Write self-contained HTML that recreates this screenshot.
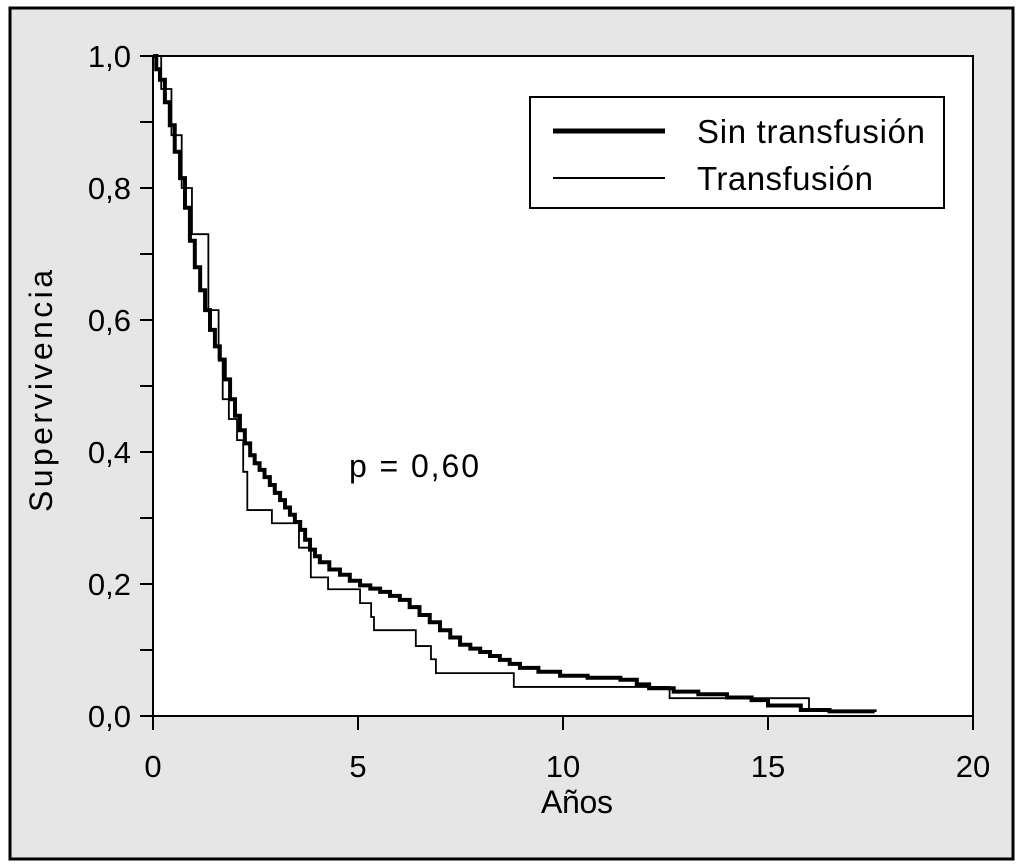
<!DOCTYPE html>
<html><head><meta charset="utf-8"><style>
html,body{margin:0;padding:0;background:#fff;}
svg{display:block;font-family:"Liberation Sans",sans-serif;}
</style></head><body>
<svg id="chart" width="1024" height="865" viewBox="0 0 1024 865">
<rect x="10" y="8" width="1003" height="851" fill="#e6e6e6" stroke="#000" stroke-width="3"/>
<rect x="153" y="56" width="820" height="660" fill="#fff" stroke="#000" stroke-width="2"/>
<g id="axes"></g>
<g id="series"></g>
<text x="349" y="477" font-size="32" textLength="130" fill="#000">p = 0,60</text>
<g>
<rect x="530" y="97" width="414" height="111" fill="#fff" stroke="#000" stroke-width="2"/>
<line x1="553" y1="131" x2="665" y2="131" stroke="#000" stroke-width="5"/>
<text x="697" y="143" font-size="33" textLength="228">Sin transfusión</text>
<line x1="553" y1="178" x2="665" y2="178" stroke="#000" stroke-width="2"/>
<text x="697" y="190" font-size="33" textLength="176">Transfusión</text>
</g>
<text x="541" y="813" font-size="32" textLength="72">Años</text>
<text transform="translate(52,512) rotate(-90)" font-size="32" textLength="242">Supervivencia</text>
</svg>
<script>
const xTicks=[0,5,10,15,20];
const yTicks=[0,0.1,0.2,0.3,0.4,0.5,0.6,0.7,0.8,0.9,1.0];
const yLabels=["0,0","","0,2","","0,4","","0,6","","0,8","","1,0"];
const sinTimes=[0,0.08,0.17,0.29,0.41,0.53,0.66,0.78,0.9,1.02,1.15,1.27,1.39,1.51,1.63,1.75,1.88,2.0,2.12,2.24,2.37,2.48,2.6,2.72,2.85,2.97,3.1,3.22,3.34,3.46,3.59,3.71,3.83,3.95,4.07,4.3,4.56,4.8,5.05,5.3,5.54,5.78,6.02,6.26,6.5,6.75,7.0,7.25,7.49,7.74,7.98,8.22,8.46,8.7,8.95,9.4,9.93,10.6,11.4,11.8,12.1,12.7,13.3,14.0,14.6,15.0,15.8,16.5,17.6];
const sinSurv=[1.0,0.98,0.964,0.93,0.895,0.855,0.815,0.77,0.72,0.68,0.645,0.615,0.585,0.56,0.54,0.51,0.48,0.455,0.433,0.413,0.395,0.383,0.373,0.362,0.35,0.338,0.327,0.316,0.305,0.294,0.282,0.267,0.252,0.242,0.233,0.222,0.214,0.205,0.198,0.193,0.188,0.182,0.176,0.165,0.153,0.142,0.13,0.119,0.108,0.102,0.097,0.091,0.085,0.079,0.073,0.067,0.061,0.058,0.055,0.048,0.042,0.037,0.033,0.028,0.024,0.016,0.009,0.007,0.006];
const traTimes=[0,0.2,0.45,0.7,0.95,1.35,1.6,1.7,1.85,2.05,2.2,2.3,2.9,3.56,3.85,4.27,5.05,5.32,5.39,6.41,6.78,6.9,8.8,12.6,16.0];
const traSurv=[1.0,0.95,0.88,0.8,0.73,0.615,0.54,0.48,0.45,0.418,0.37,0.312,0.292,0.255,0.21,0.192,0.171,0.15,0.13,0.106,0.086,0.065,0.044,0.027,0.006];
const X0=153,X1=973,Y0=716,Y1=56;
const xs=t=>X0+t/20*(X1-X0);
const ys=s=>Y0-s*(Y0-Y1);
const NS="http://www.w3.org/2000/svg";
const axes=document.getElementById('axes');
function mk(tag,attrs,parent){const e=document.createElementNS(NS,tag);for(const k in attrs)e.setAttribute(k,attrs[k]);parent.appendChild(e);return e;}
xTicks.forEach(v=>{
 const l=mk('line',{x1:xs(v),x2:xs(v),y1:Y0,y2:Y0+14,stroke:'#000','stroke-width':2},axes);
 
 
 const t=mk('text',{x:xs(v),y:Y0+61,'font-size':31,'text-anchor':'middle'},axes);
 t.textContent=v;
 
 
});
yTicks.forEach((v,i)=>{
 const l=mk('line',{x1:X0-13,x2:X0,y1:ys(v),y2:ys(v),stroke:'#000','stroke-width':2},axes);
 
 
 if(yLabels[i]){
  const t=mk('text',{x:X0-22,y:ys(v)+11,'font-size':31,'text-anchor':'end'},axes);
  t.textContent=yLabels[i];
  
  
 }
});
function stepPath(ts,ss){let d=`M${xs(ts[0])},${ys(ss[0])}`;for(let i=1;i<ts.length;i++){d+=` H${xs(ts[i])} V${ys(ss[i])}`;}return d;}
const g=document.getElementById('series');
const p1=mk('path',{d:stepPath(sinTimes,sinSurv),fill:'none',stroke:'#000','stroke-width':4},g);


const p2=mk('path',{d:stepPath(traTimes,traSurv),fill:'none',stroke:'#000','stroke-width':1.8},g);


</script>
</body></html>
